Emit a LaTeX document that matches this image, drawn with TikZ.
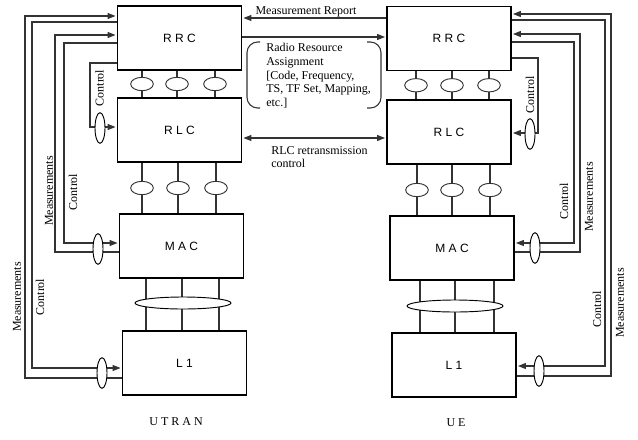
\documentclass[tikz,border=0pt]{standalone}
\usepackage{fontspec}
\setmainfont{Liberation Serif}
\newfontfamily\layerfont{Liberation Sans}
\usetikzlibrary{arrows.meta,shapes.geometric}

\begin{document}
\begin{tikzpicture}[x=0.75pt,y=-0.75pt,
    layer/.style={draw,line width=0.9pt,minimum width=93pt,minimum height=48pt,inner sep=0pt,font=\layerfont\small},
    chan/.style={ellipse,draw,line width=0.7pt,fill=white,minimum width=17pt,minimum height=10pt,inner sep=0pt},
    bus/.style={ellipse,draw,line width=0.7pt,fill=white,minimum width=72pt,minimum height=9pt,inner sep=0pt},
    tap/.style={ellipse,draw,line width=0.7pt,fill=white,minimum width=7.5pt,minimum height=23pt,inner sep=0pt},
    wire/.style={draw=black!80,line width=0.8pt},
    sig/.style={wire,-{Triangle[length=6pt,width=4.5pt]},shorten >=1pt},
    dsig/.style={wire,{Triangle[length=6pt,width=4.5pt]}-{Triangle[length=6pt,width=4.5pt]},shorten >=1pt,shorten <=1pt},
    lbl/.style={font=\small,rotate=90,inner sep=0pt},
    txt/.style={font=\fontsize{9}{10.3}\selectfont,align=left,inner sep=0pt,anchor=north west}]
  \useasboundingbox (0,0) rectangle (638,439);

  % UTRAN side
  \node[layer] (urrc) at (179.5,38) {R R C};
  \node[layer] (urlc) at (179.5,130) {R L C};
  \node[layer] (umac) at (181.5,246) {M A C};
  \node[layer] (ul1) at (184.5,363) {L 1};
  % UE side
  \node[layer] (errc) at (449,38.5) {R R C};
  \node[layer] (erlc) at (449,132) {R L C};
  \node[layer] (emac) at (452,248) {M A C};
  \node[layer] (el1) at (454,365) {L 1};

  % logical and transport channels
  \foreach \x in {142,177,215}
    \draw[wire] (\x,0 |- urrc.south) -- (\x,0 |- urlc.north) node[chan,midway] (ulog\x) {};
  \foreach \x in {142,178,216}
    \draw[wire] (\x,0 |- urlc.south) -- (\x,0 |- umac.north) node[chan,midway] (utrc\x) {};
  \foreach \x in {416,452,489}
    \draw[wire] (\x,0 |- errc.south) -- (\x,0 |- erlc.north) node[chan,midway] (elog\x) {};
  \foreach \x in {417,452,490}
    \draw[wire] (\x,0 |- erlc.south) -- (\x,0 |- emac.north) node[chan,midway] (etrc\x) {};
  % physical channels
  \foreach \x in {146,182,219}
    \draw[wire] (\x,0 |- umac.south) -- (\x,0 |- ul1.north);
  \foreach \x in {420,455,494}
    \draw[wire] (\x,0 |- emac.south) -- (\x,0 |- el1.north);
  \node[bus] (ubus) at (183,303) {};
  \node[bus] (ebus) at (455,306) {};

  % UTRAN control and measurements
  \draw[sig] (ul1.west |- 0,378) -| (25,16) -- (urrc.west |- 0,16);
  \draw[sig] (urrc.west |- 0,22) -| (32,368) -- (ul1.west |- 0,368);
  \draw[sig] (umac.west |- 0,252) -| (55,35) -- (urrc.west |- 0,35);
  \draw[sig] (urrc.west |- 0,43) -| (64,243) -- (umac.west |- 0,243);
  \draw[sig] (urrc.west |- 0,63) -| (90,127) -- (urlc.west |- 0,127);
  \node[tap] (utap1) at (102,373) {};
  \node[tap] (utap2) at (98,249) {};
  \node[tap] (utap3) at (100,128) {};
  \node[lbl] (umeas1) at (17,297) {Measurements};
  \node[lbl] (uctrl1) at (40,297) {Control};
  \node[lbl] (umeas2) at (49,191) {Measurements};
  \node[lbl] (uctrl2) at (73,192) {Control};
  \node[lbl] (uctrl3) at (99.5,88) {Control};

  % UE control and measurements
  \draw[sig] (el1.east |- 0,376) -| (611,14) -- (errc.east |- 0,14);
  \draw[sig] (errc.east |- 0,20) -| (605,366) -- (el1.east |- 0,366);
  \draw[sig] (emac.east |- 0,252) -| (580,34) -- (errc.east |- 0,34);
  \draw[sig] (errc.east |- 0,42) -| (574,243) -- (emac.east |- 0,243);
  \draw[sig] (errc.east |- 0,58) -| (538,133) -- (erlc.east |- 0,133);
  \node[tap] (etap1) at (539,371) {};
  \node[tap] (etap2) at (535,248) {};
  \node[tap] (etap3) at (530,134) {};
  \node[lbl] (emeas1) at (620,303) {Measurements};
  \node[lbl] (ectrl1) at (597,309) {Control};
  \node[lbl] (emeas2) at (589,197) {Measurements};
  \node[lbl] (ectrl2) at (564,201) {Control};
  \node[lbl] (ectrl3) at (530,95) {Control};

  % peer signalling
  \draw[sig] (errc.west |- 0,18) -- (urrc.east |- 0,18);
  \node[font=\small,inner sep=0pt] (mrep) at (306,12) {Measurement Report};
  \draw[sig] (urrc.east |- 0,37) -- (errc.west |- 0,37);
  \draw[wire,rounded corners=8pt] (260,42) -- (247,42) -- (247,108) -- (260,108);
  \draw[wire,rounded corners=8pt] (367,42) -- (381,42) -- (381,108) -- (367,108);
  \node[txt] (rra) at (266,43) {Radio Resource\\Assignment\\{[}Code, Frequency,\\TS, TF Set, Mapping,\\etc.]};
  \draw[dsig] (urlc.east |- 0,138) -- (erlc.west |- 0,138);
  \node[txt] (rlcr) at (271,146) {RLC retransmission\\control};

  \node[font=\small] (utran) at (176,422) {U T R A N};
  \node[font=\small] (ue) at (456,423) {U E};
\end{tikzpicture}
\end{document}
